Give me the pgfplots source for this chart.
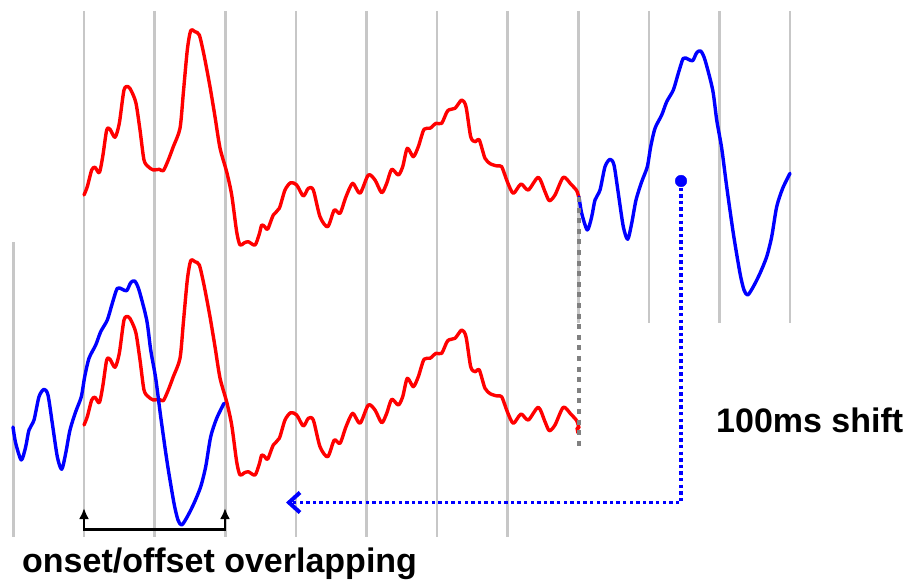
\documentclass[border=0pt]{standalone}
\usepackage{pgfplots}
\pgfplotsset{compat=1.18}
\usepackage{pgfplotstable}
\usepackage{fontspec}
\setmainfont{Liberation Sans}
\usetikzlibrary{arrows.meta}

\pgfplotstableread{
x y
84 195
87.3 186.7
91.7 170
95 167.3
99.3 172.7
102.7 156.7
106.7 130
110 129.3
115 137.3
119.3 123.3
124 90
128.3 86.7
131.7 91.7
136 103.3
140 130
144 160
148.3 166.7
153.3 170
159.3 169.3
163.3 170.7
168.3 160
173.3 146.7
180 128.3
183.3 93.3
187.3 50
190.7 30.7
195 31.7
199.3 35
204 55
210 86.7
215 116.7
220 148
226.7 172
231.7 195
236.7 232
240 245
244 243
248.3 241.7
255 245
259.3 234
261.7 225
265 227
267.7 229.3
273.3 215
279.3 208.3
285 190
290.7 182.7
296.7 185
303.3 196
308.3 188.3
313.3 190
320 216.7
327.7 226.7
334.3 210
340 213.3
346 196.7
352.7 183.3
360 193.3
368.3 175
375 180
381.7 192.7
386.7 183.3
391.7 169.3
398.3 175
402.7 166.7
407.3 148.3
413.3 156.7
418.3 146.7
424 129.3
430 128.3
436 123.3
441.7 123.3
447.7 110.7
455 108.3
461.7 100
466 106.7
470.7 136.7
475 141.7
479.3 140
485 158.3
490.7 164
497.3 166
501.7 166.7
507.3 181.7
513.3 193.3
521 184
528.3 190
538.3 177.3
545 191.7
549.3 200.7
555 195
563.3 177.3
570.7 184
576.7 190.7
579 198
}\redtab

\pgfplotstableread{
x y
579 197
581.7 213.3
587.3 230
591.7 216.7
595 200
600 190
605 166.7
610 159.3
614 165
618.3 193.3
623.3 226.7
627.7 239.3
631.7 223.3
636 200
641.7 181.7
647.3 166.7
650.7 146.7
655 128.3
661.7 115
666.7 101.7
673.3 90
678.3 73.3
683.3 58.3
688.3 59.3
692.7 60.7
696.7 52.7
700.7 51
705 60
712.7 90
716.7 120
721.7 148.3
726.7 186.7
733.3 233.3
740 273.3
744 290
747.7 295
753.3 286.7
760 273.3
766.7 256.7
771.7 236.7
776.7 206.7
782.7 188.3
790 173.3
}\bluetab

\begin{document}
\begin{tikzpicture}
\begin{axis}[
  x=1pt, y=1pt, y dir=reverse,
  xmin=0, xmax=907, ymin=0, ymax=580,
  hide axis, clip=false,
  vline/.style={color=black!22, line width=2.6pt, forget plot},
  curve/.style={line width=3.4pt, line join=round, line cap=round, smooth, tension=0.45},
]
\path (rel axis cs:0,0) rectangle (rel axis cs:1,1);
% grid lines, top row
\pgfplotsinvokeforeach{84,154.6,225.2,295.8,366.4,437,507.6,578.2,648.8,719.4,790}{
  \addplot[vline] coordinates {(#1,11) (#1,323)};
}
% grid lines, bottom row
\pgfplotsinvokeforeach{13.4,84,154.6,225.2,295.8,366.4,437,507.6}{
  \addplot[vline] coordinates {(#1,242) (#1,537)};
}
% top row
\addplot[curve, red] table[x=x,y=y] {\redtab};
\addplot[curve, blue] table[x=x,y=y] {\bluetab};
% bottom row (shifted copies)
\addplot[curve, red] table[x expr=\thisrow{x}, y expr=\thisrow{y}+230] {\redtab};
\addplot[curve, red] coordinates {(577,428) (578,433)};
\addplot[curve, blue] table[x expr=\thisrow{x}-566, y expr=\thisrow{y}+230] {\bluetab};
% gray dashed connector
\addplot[color=black!50, line width=4.8pt, dash pattern=on 5pt off 5.6pt] coordinates {(579,197) (579,446)};
% blue dotted shift arrow
\addplot[blue, line width=3.8pt, dash pattern=on 3.4pt off 3.2pt,
  -{Straight Barb[length=11pt,width=20pt,line width=4pt]}] coordinates {(681,181) (681,502.5) (286,502.5)};
\addplot[only marks, mark=*, blue, mark size=5.8pt] coordinates {(681,181)};
% bracket
\addplot[black, line width=2.8pt,
  {Latex[length=11pt,width=10pt]}-{Latex[length=11pt,width=10pt]}] coordinates {(84,508) (84,529.5) (225,529.5) (225,508)};
% texts
\node[anchor=base west, inner sep=0pt, font=\fontsize{34}{38}\selectfont\bfseries] at (axis cs:22,572) {onset/offset overlapping};
\node[anchor=base west, inner sep=0pt, font=\fontsize{34}{38}\selectfont\bfseries] at (axis cs:716,432) {100ms shift};
\end{axis}
\end{tikzpicture}
\end{document}
